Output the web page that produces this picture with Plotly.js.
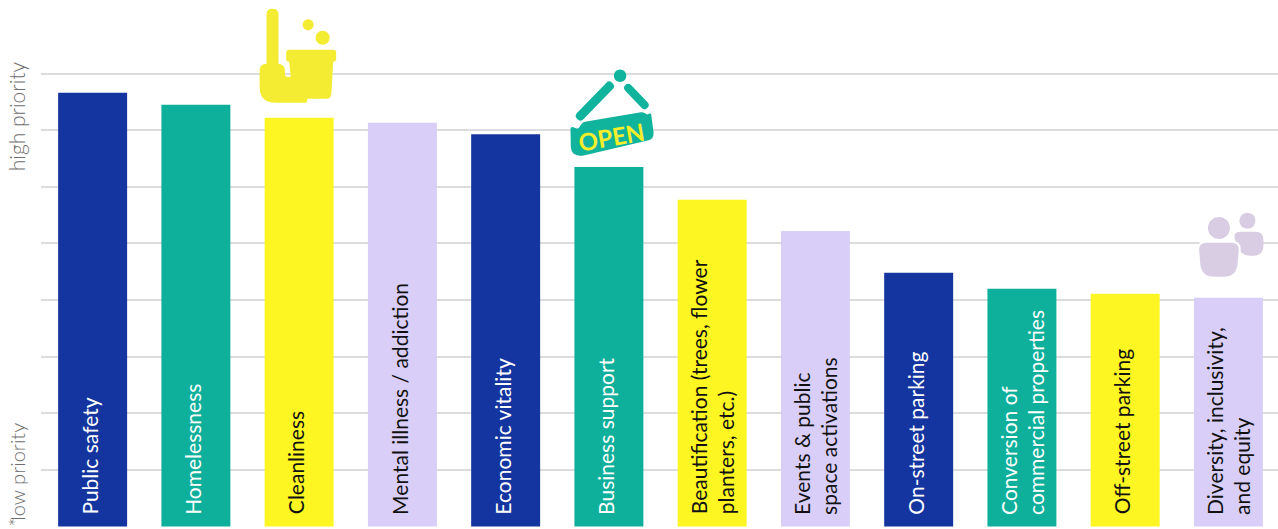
<!DOCTYPE html>
<html>
<head>
<meta charset="utf-8">
<script src="https://cdn.plot.ly/plotly-3.0.1.min.js"></script>
<style>html,body{margin:0;padding:0;background:#fff;overflow:hidden}#chart{width:1278px;height:529px}</style>
</head>
<body>
<div id="chart"></div>
<script>
// Priority ranking of district issues
const categories = ["Public safety","Homelessness","Cleanliness","Mental illness / addiction","Economic vitality","Business support","Beautification (trees, flower planters, etc.)","Events & public space activations","On-street parking","Conversion of commercial properties","Off-street parking","Diversity, inclusivity, and equity"];
const barLabels = ["Public safety","Homelessness","Cleanliness","Mental illness / addiction","Economic vitality","Business support","Beautification (trees, flower<br>planters, etc.)","Events &amp; public<br>space activations","On-street parking","Conversion of<br>commercial properties","Off-street parking","Diversity, inclusivity,<br>and equity"];
const priorityScores = [7.66,7.45,7.22,7.13,6.93,6.35,5.77,5.22,4.48,4.20,4.11,4.04];
const barColors = ["#14359f","#0fb09b","#fdf623","#d8cef8","#14359f","#0fb09b","#fdf623","#d8cef8","#14359f","#0fb09b","#fdf623","#d8cef8"];
const labelColors = ["#ffffff","#ffffff","#111111","#111111","#ffffff","#ffffff","#111111","#111111","#ffffff","#ffffff","#111111","#111111"];
const gridValues = [0,1,2,3,4,5,6,7,8];

const FONT = "Lato, sans-serif";

// Small path builders: coordinates are pixels from the anchor, y pointing down.
const K = 0.5523;
function P(x, y) { return x + "," + (-y); }
function circle(cx, cy, r) {
  const k = r * K;
  return "M" + P(cx - r, cy) +
    "C" + P(cx - r, cy - k) + " " + P(cx - k, cy - r) + " " + P(cx, cy - r) +
    "C" + P(cx + k, cy - r) + " " + P(cx + r, cy - k) + " " + P(cx + r, cy) +
    "C" + P(cx + r, cy + k) + " " + P(cx + k, cy + r) + " " + P(cx, cy + r) +
    "C" + P(cx - k, cy + r) + " " + P(cx - r, cy + k) + " " + P(cx - r, cy) + "Z";
}
// Closed polygon with each corner softened by a radius given per vertex
function rounded(points) {
  const n = points.length;
  let d = "";
  for (let i = 0; i < n; i++) {
    const [x, y, r] = points[i];
    const [px, py] = points[(i + n - 1) % n];
    const [nx, ny] = points[(i + 1) % n];
    const la = Math.hypot(px - x, py - y), lb = Math.hypot(nx - x, ny - y);
    const ax = x + (px - x) * r / la, ay = y + (py - y) * r / la;
    const bx = x + (nx - x) * r / lb, by = y + (ny - y) * r / lb;
    d += (i ? "L" : "M") + P(ax, ay) + "Q" + P(x, y) + " " + P(bx, by);
  }
  return d + "Z";
}

function icon(barIndex, path, color, outline) {
  return {
    type: "path", layer: "above",
    xref: "x", yref: "y",
    xsizemode: "pixel", ysizemode: "pixel",
    xanchor: barIndex, yanchor: priorityScores[barIndex],
    path: path, fillcolor: color,
    line: outline ? {color: outline, width: 2} : {width: 0}
  };
}

const BROOM = "#f4ec33", SIGN = "#10b39c", PEOPLE = "#d9cde3";
const shapes = [
  // broom and bucket above the Cleanliness bar
  icon(2, rounded([[-32.6,-50,3],[-32.6,-109,5.9],[-20.6,-109,5.9],[-20.6,-50,3]]), BROOM),
  icon(2, rounded([[-39.5,-54,7],[-14.5,-54,7],[-14,-41,2],[8,-41,1],[8,-15,2],[-18,-15,2],[-39.5,-15,16]]), BROOM),
  icon(2, rounded([[-13,-68,3],[37,-68,3],[37,-56,3],[34,-56,0],[32,-19,5],[-6,-19,5],[-10,-56,0],[-13,-56,3]]), BROOM),
  icon(2, circle(9, -93, 5.5), BROOM),
  icon(2, circle(23.5, -80, 7), BROOM),
  // hanging sign above the Business support bar
  icon(5, rounded([[-34.7,-51.2,4],[0.3,-87.2,4],[6.7,-80.8,4],[-28.3,-44.8,4]]), SIGN),
  icon(5, rounded([[13.6,-79.2,4],[19.4,-84.8,4],[41.4,-61.8,4],[35.6,-56.2,4]]), SIGN),
  icon(5, circle(11.2, -91.3, 6.2), SIGN),
  icon(5, rounded([[-38.5,-41,4],[-31,-38,2],[-26,-45,2],[34,-55,2],[39,-52,2],[42,-55,3],[45.5,-28,7],[-32,-10,7],[-38,-16,4]]), SIGN),
  // two figures above the Diversity bar
  icon(11, circle(19, -77, 8), PEOPLE),
  icon(11, rounded([[4,-66,8],[35,-66,8],[35,-42,10],[12,-42,10]]), PEOPLE),
  icon(11, circle(-9.5, -69.7, 11), PEOPLE),
  icon(11, rounded([[-31,-56,9],[12,-56,9],[9,-20,14],[-28,-20,14]]), PEOPLE, "#ffffff")
];

// Bar captions run up from the foot of each bar
const annotations = barLabels.map((text, i) => ({
  x: i, y: 0, xref: "x", yref: "y",
  text: text, showarrow: false, textangle: -90,
  xanchor: "center", yanchor: "bottom", yshift: 10, xshift: text.includes("<br>") ? 0 : -3,
  align: "left",
  font: {family: FONT, size: 21, color: labelColors[i]}
}));

// Priority scale captions on the left, plus the lettering on the sign
const scaleFont = {family: FONT, size: 21, weight: 300, color: "#6e6e6e"};
annotations.push(
  {xref: "paper", yref: "paper", x: -0.0195, y: 0.671, text: "high priority", showarrow: false,
   textangle: -90, xanchor: "center", yanchor: "bottom", font: scaleFont},
  {xref: "paper", yref: "paper", x: -0.0195, y: 0.008, text: "low priority", showarrow: false,
   textangle: -90, xanchor: "center", yanchor: "bottom", font: {family: FONT, size: 20, weight: 300, color: "#6e6e6e"}},
  {xref: "paper", yref: "paper", x: -0.0195, y: -0.002, text: "*", showarrow: false,
   textangle: -90, xanchor: "center", yanchor: "bottom", font: scaleFont},
  {x: 5, y: priorityScores[5], xref: "x", yref: "y", text: "<b>OPEN</b>", showarrow: false,
   textangle: -10, xanchor: "center", yanchor: "middle", xshift: 3, yshift: 31,
   font: {family: FONT, size: 24, color: "#f7ee2b"}}
);

Plotly.newPlot("chart", [{
  type: "bar",
  x: categories,
  y: priorityScores,
  marker: {color: barColors, line: {width: 0}},
  hoverinfo: "x+y"
}], {
  width: 1278, height: 529,
  margin: {l: 41, r: 0, t: 0, b: 2, pad: 0},
  paper_bgcolor: "#ffffff", plot_bgcolor: "#ffffff",
  showlegend: false,
  bargap: 0.332,
  xaxis: {type: "category", range: [-0.5, 11.48], showticklabels: false, ticks: "", showgrid: false, zeroline: false, showline: false, fixedrange: true},
  yaxis: {range: [-0.009, 9.30], tickmode: "array", tickvals: gridValues, showticklabels: false, ticks: "",
          showgrid: true, gridcolor: "#dcdcdc", gridwidth: 2, zeroline: false, showline: false, fixedrange: true},
  shapes: shapes,
  annotations: annotations
}, {displayModeBar: false, staticPlot: true});
</script>
</body>
</html>
